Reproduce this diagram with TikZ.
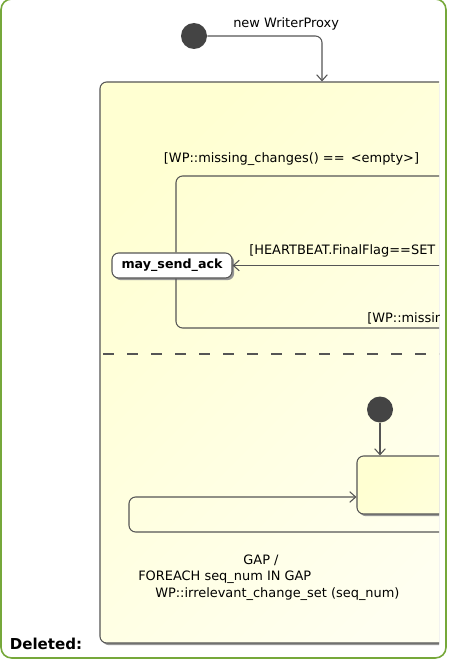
\documentclass[tikz,border=0pt]{standalone}
\usepackage{fontspec}
\setmainfont{DejaVu Sans}
\usetikzlibrary{arrows.meta,shadows}
\definecolor{frameg}{RGB}{118,168,58}
\definecolor{linec}{RGB}{85,85,85}
\definecolor{dotc}{RGB}{68,68,68}
\definecolor{yelA}{RGB}{255,255,210}
\definecolor{yelB}{RGB}{255,255,240}
\definecolor{shad}{RGB}{150,150,150}
\begin{document}
\begin{tikzpicture}[x=0.75pt,y=-0.75pt,
  conn/.style={draw=linec, line width=0.8pt, rounded corners=5pt},
  arr/.style={-{Straight Barb[length=4.5pt,width=8pt]}},
  lab/.style={font=\fontsize{9.7}{11}\selectfont, text=black, inner sep=0pt},
  init/.style={circle, fill=dotc, minimum size=19.5pt, inner sep=0pt},
  statebox/.style={draw=linec, line width=0.8pt, rounded corners=5pt, inner sep=0pt,
     drop shadow={shadow xshift=1.6pt, shadow yshift=-1.6pt, fill=shad, opacity=1}},
]
\useasboundingbox (0,0) rectangle (449,660);
\fill[white] (0,0) rectangle (449,660);

\node[init] (init1) at (194,36) {};
\node[lab, anchor=west] (newwp) at (233,24) {new WriterProxy};

\begin{scope}
\clip (0,-5) rectangle (439,665);
\node[statebox, minimum width=300pt, minimum height=420.75pt,
      top color=yelA, bottom color=yelB, shading angle=45] (comp) at (300,362.5) {};

% upper region
\node[statebox, minimum width=90pt, minimum height=18.75pt, fill=white,
      font=\fontsize{9.5}{11}\selectfont\bfseries] (msa) at (172,265.5) {may\_send\_ack};
\coordinate (vx) at (176,0);
\coordinate (e1) at (445,176);
\coordinate (e2) at (445,328);
\coordinate (e3) at (445,265.5);
\draw[conn] (vx |- msa.north) |- (e1);
\draw[conn] (vx |- msa.south) |- (e2);
\draw[conn,arr] (e3) -- (msa.east);
\node[lab] (g1) at (291.5,159) {[WP::missing\_changes() == \,<empty>]};
\node[lab, anchor=west] (g2) at (249,251) {[HEARTBEAT.FinalFlag==SET};
\node[lab, anchor=west] (g3) at (367,318) {[WP::missin};

% separator
\coordinate (s1) at (100,354);
\coordinate (s2) at (445,354);
\draw[draw=linec, line width=0.8pt, dash pattern=on 8.25pt off 9.75pt, dash phase=-2.25pt] (s1) -- (s2);

% lower region
\node[init] (init2) at (380,409.5) {};
\node[statebox, minimum width=150pt, minimum height=43.5pt,
      top color=yelA, bottom color=yelB!60!yelA, shading angle=45] (st) at (457,485) {};
\draw[conn,arr] (init2) -- (init2 |- st.north);
\coordinate (lx) at (129,0);
\coordinate (ly) at (0,497);
\coordinate (e4) at (445,532);
\draw[conn,arr] (e4) -| (lx |- ly) -- (st.west |- ly);
\node[lab] (t1) at (261,560) {GAP /};
\node[lab, anchor=west] (t2) at (138,577) {FOREACH seq\_num IN GAP};
\node[lab, anchor=west] (t3) at (155,594) {WP::irrelevant\_change\_set (seq\_num)};
\end{scope}

\coordinate (x1) at (322,0);
\draw[conn,arr] (init1) -| (x1 |- comp.north);

\node[font=\fontsize{11.3}{13}\selectfont\bfseries, inner sep=0pt] (del) at (46,644) {Deleted:};

\draw[draw=frameg, line width=1.2pt, rounded corners=8pt] (1,-1) rectangle (446,658);
\end{tikzpicture}
\end{document}
